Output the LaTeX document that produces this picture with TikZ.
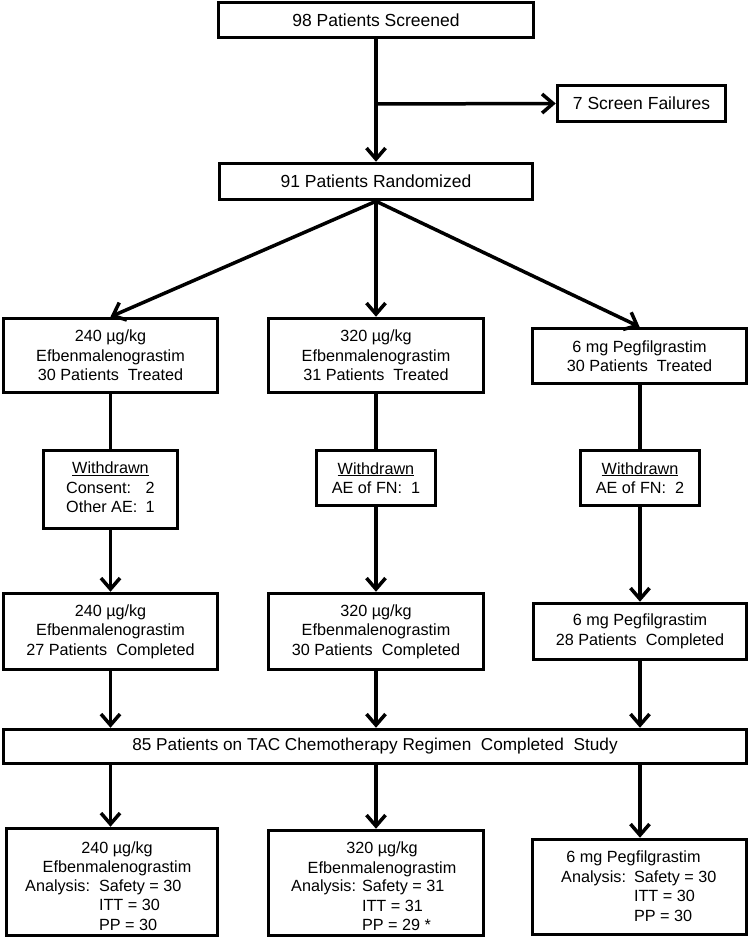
\documentclass[tikz,border=0pt]{standalone}
\usepackage{fontspec}
\setmainfont{Liberation Sans}
\usetikzlibrary{arrows.meta}
\begin{document}
\begin{tikzpicture}[x=1pt,y=-1pt,
  box/.style={draw=black,line width=3.5pt,fill=white,inner sep=0pt,align=center,
    font=\fontsize{16.2}{19.5}\selectfont},
  topbox/.style={box,font=\fontsize{17.5}{21}\selectfont},
  txt/.style={inner sep=0pt,align=center,font=\fontsize{16.2}{19.5}\selectfont},
  conn/.style={line width=3.5pt,draw=black},
  arr/.style={conn,-{Straight Barb[length=11pt,width=19pt]}}
]
\useasboundingbox (0,0) rectangle (749,947);

% level 1
\node[topbox,minimum width=315pt,minimum height=35pt] (scr) at (376,20) {98 Patients Screened};
\node[topbox,minimum width=168pt,minimum height=36pt] (fail) at (641.5,103.5) {7 Screen Failures};
\node[topbox,minimum width=313pt,minimum height=36pt] (rand) at (376,181.5) {91 Patients Randomized};
\coordinate (br) at (376,104);

% treated
\node[box,minimum width=214pt,minimum height=74pt] (t1) at (110.5,355.5) {240 µg/kg\\Efbenmalenograstim\\30 Patients\ \ Treated};
\node[box,minimum width=215pt,minimum height=74pt] (t2) at (376,355.5) {320 µg/kg\\Efbenmalenograstim\\31 Patients\ \ Treated};
\node[box,minimum width=214pt,minimum height=55pt] (t3) at (639.5,356) {6 mg Pegfilgrastim\\30 Patients\ \ Treated};

% withdrawn
\node[box,minimum width=134pt,minimum height=78pt] (w1) at (110.5,489.5)
  {\begin{tabular}{@{}l@{\hskip 8pt}r@{}}\multicolumn{2}{c}{\underline{Withdrawn}}\\ Consent: & 2\\ Other AE: & 1\end{tabular}};
\node[box,minimum width=119pt,minimum height=55pt] (w2) at (376,478)
  {\underline{Withdrawn}\\AE of FN:\ \ 1};
\node[box,minimum width=119pt,minimum height=55pt] (w3) at (640,478)
  {\underline{Withdrawn}\\AE of FN:\ \ 2};

% completed
\node[box,minimum width=214pt,minimum height=76pt] (c1) at (110.5,631.5) {240 µg/kg\\Efbenmalenograstim\\27 Patients\ \ Completed};
\node[box,minimum width=215pt,minimum height=76pt] (c2) at (376,631.5) {320 µg/kg\\Efbenmalenograstim\\30 Patients\ \ Completed};
\node[box,minimum width=213pt,minimum height=56pt] (c3) at (640,631.5) {6 mg Pegfilgrastim\\28 Patients\ \ Completed};

% big
\node[topbox,font=\fontsize{17.2}{21}\selectfont,minimum width=743pt,minimum height=34pt] (big) at (375,746.5) {85 Patients on TAC Chemotherapy Regimen\ \ Completed\ \ Study};

% analysis boxes
\node[box,minimum width=211pt,minimum height=107pt] (a1) at (112,882) {};
\node[box,minimum width=215pt,minimum height=105pt] (a2) at (376,883) {};
\node[box,minimum width=214pt,minimum height=95pt] (a3) at (639.5,887) {};

\node[txt] (a1t) at (117,859) {240 µg/kg\\Efbenmalenograstim};
\node[txt,anchor=west] (a1a) at (25,907)
  {\begin{tabular}{@{}l@{\hskip 9pt}l@{}}Analysis: & Safety = 30\\ & ITT = 30\\ & PP = 30\end{tabular}};
\node[txt] (a2t) at (382,859.5) {320 µg/kg\\Efbenmalenograstim};
\node[txt,anchor=west] (a2a) at (291,907.5)
  {\begin{tabular}{@{}l@{\hskip 6pt}l@{}}Analysis: & Safety = 31\\ & ITT = 31\\ & PP = 29 *\end{tabular}};
\node[txt] (a3t) at (633.5,858) {6 mg Pegfilgrastim};
\node[txt,anchor=west] (a3a) at (561,898)
  {\begin{tabular}{@{}l@{\hskip 8pt}l@{}}Analysis: & Safety = 30\\ & ITT = 30\\ & PP = 30\end{tabular}};

% connectors
\draw[arr] (scr.south) -- (rand.north);
\draw[arr] (br) -- (fail.west);
\draw[arr] (rand.south) -- (t1.north);
\draw[arr] (rand.south) -- (t2.north);
\draw[arr] (rand.south) -- (t3.north);
\draw[conn] (t1.south) -- (w1.north);
\draw[conn] (t2.south) -- (w2.north);
\draw[conn] (t3.south -| w3.north) -- (w3.north);
\draw[arr] (w1.south) -- (c1.north);
\draw[arr] (w2.south) -- (c2.north);
\draw[arr] (w3.south) -- (c3.north);
\draw[arr] (c1.south) -- (c1.south |- big.north);
\draw[arr] (c2.south) -- (c2.south |- big.north);
\draw[arr] (c3.south) -- (c3.south |- big.north);
\draw[arr] (big.south -| c1.south) -- (c1.south |- a1.north);
\draw[arr] (big.south -| c2.south) -- (c2.south |- a2.north);
\draw[arr] (big.south -| c3.south) -- (c3.south |- a3.north);
\end{tikzpicture}
\end{document}
